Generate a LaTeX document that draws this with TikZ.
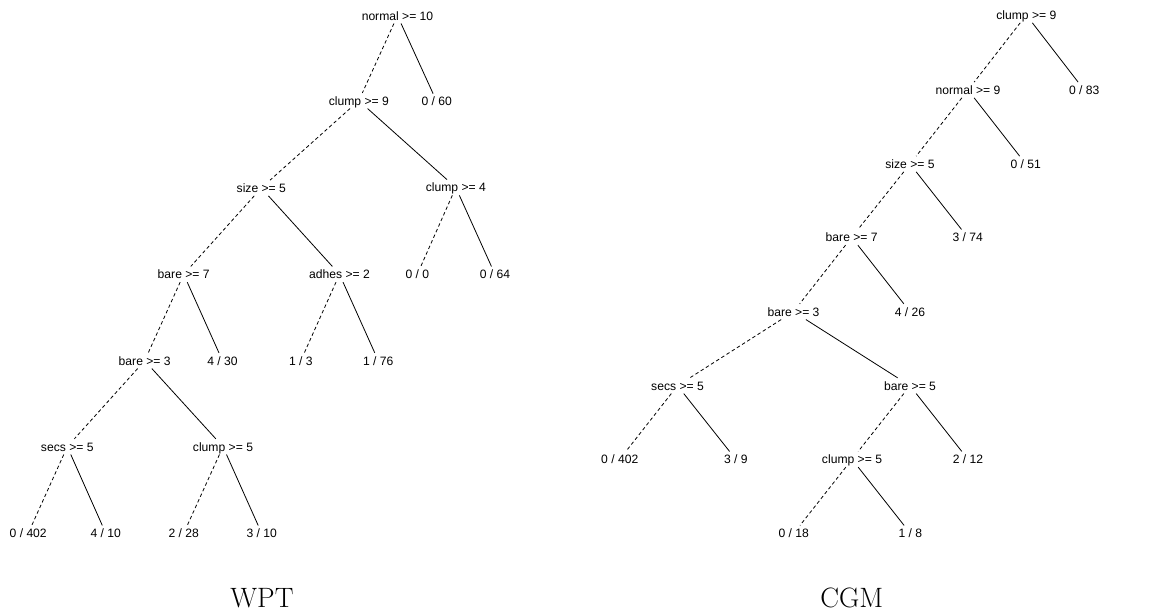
\documentclass[tikz,border=0pt]{standalone}
\usepackage{fontspec}
\newfontfamily\arial{Liberation Sans}
\usetikzlibrary{positioning}
\tikzset{
  lbl/.style={font=\arial\fontsize{9.1}{11}\selectfont, text height=6.6pt, text depth=0pt,
    inner xsep=2pt, inner ysep=2.4pt},
  no/.style={line width=0.6pt, dash pattern=on 2.6pt off 2pt},
  yes/.style={line width=0.6pt},
  ttl/.style={font=\fontsize{21}{24}\selectfont}
}

\begin{document}
\begin{tikzpicture}[x=0.75pt, y=-0.75pt]
\useasboundingbox (0,0) rectangle (1163,614);
% WPT
\node[lbl] (w1) at (397.5,15.7) {normal >= 10};
\node[lbl] (w2) at (358.8,100.7) {clump >= 9};
\node[lbl] (w3) at (436.7,101.5) {0 / 60};
\node[lbl] (w4) at (261.3,188) {size >= 5};
\node[lbl] (w5) at (455.8,187.5) {clump >= 4};
\node[lbl] (w6) at (183.7,274.3) {bare >= 7};
\node[lbl] (w7) at (339.5,274.3) {adhes >= 2};
\node[lbl] (w8) at (417.3,274.3) {0 / 0};
\node[lbl] (w9) at (495,274.3) {0 / 64};
\node[lbl] (w10) at (144.7,360.7) {bare >= 3};
\node[lbl] (w11) at (222.5,360.7) {4 / 30};
\node[lbl] (w12) at (300.8,360.7) {1 / 3};
\node[lbl] (w13) at (378.3,360.7) {1 / 76};
\node[lbl] (w14) at (67.3,446.7) {secs >= 5};
\node[lbl] (w15) at (223,446.7) {clump >= 5};
\node[lbl] (w16) at (28.2,533.3) {0 / 402};
\node[lbl] (w17) at (105.8,533.3) {4 / 10};
\node[lbl] (w18) at (183.7,533.3) {2 / 28};
\node[lbl] (w19) at (261.7,533.3) {3 / 10};
\node[ttl] (wpt) at (262,598) {WPT};
\draw[no] (w1) -- (w2);
\draw[yes] (w1) -- (w3);
\draw[no] (w2) -- (w4);
\draw[yes] (w2) -- (w5);
\draw[no] (w4) -- (w6);
\draw[yes] (w4) -- (w7);
\draw[no] (w5) -- (w8);
\draw[yes] (w5) -- (w9);
\draw[no] (w6) -- (w10);
\draw[yes] (w6) -- (w11);
\draw[no] (w7) -- (w12);
\draw[yes] (w7) -- (w13);
\draw[no] (w10) -- (w14);
\draw[yes] (w10) -- (w15);
\draw[no] (w14) -- (w16);
\draw[yes] (w14) -- (w17);
\draw[no] (w15) -- (w18);
\draw[yes] (w15) -- (w19);
% CGM
\node[lbl] (c1) at (1026.3,15) {clump >= 9};
\node[lbl] (c2) at (968,90) {normal >= 9};
\node[lbl] (c3) at (1084.2,90) {0 / 83};
\node[lbl] (c4) at (910,164) {size >= 5};
\node[lbl] (c5) at (1025.8,164) {0 / 51};
\node[lbl] (c6) at (851.7,237.3) {bare >= 7};
\node[lbl] (c7) at (967.7,237.3) {3 / 74};
\node[lbl] (c8) at (793.5,311.7) {bare >= 3};
\node[lbl] (c9) at (910,311.7) {4 / 26};
\node[lbl] (c10) at (677.5,385.7) {secs >= 5};
\node[lbl] (c11) at (910,385.7) {bare >= 5};
\node[lbl] (c12) at (619.7,459.3) {0 / 402};
\node[lbl] (c13) at (735.8,459.3) {3 / 9};
\node[lbl] (c14) at (852,459.3) {clump >= 5};
\node[lbl] (c15) at (968,459.3) {2 / 12};
\node[lbl] (c16) at (793.8,533.3) {0 / 18};
\node[lbl] (c17) at (910.3,533.3) {1 / 8};
\node[ttl] (cgm) at (851.8,598) {CGM};
\draw[no] (c1) -- (c2);
\draw[yes] (c1) -- (c3);
\draw[no] (c2) -- (c4);
\draw[yes] (c2) -- (c5);
\draw[no] (c4) -- (c6);
\draw[yes] (c4) -- (c7);
\draw[no] (c6) -- (c8);
\draw[yes] (c6) -- (c9);
\draw[no] (c8) -- (c10);
\draw[yes] (c8) -- (c11);
\draw[no] (c10) -- (c12);
\draw[yes] (c10) -- (c13);
\draw[no] (c11) -- (c14);
\draw[yes] (c11) -- (c15);
\draw[no] (c14) -- (c16);
\draw[yes] (c14) -- (c17);
\end{tikzpicture}
\end{document}
